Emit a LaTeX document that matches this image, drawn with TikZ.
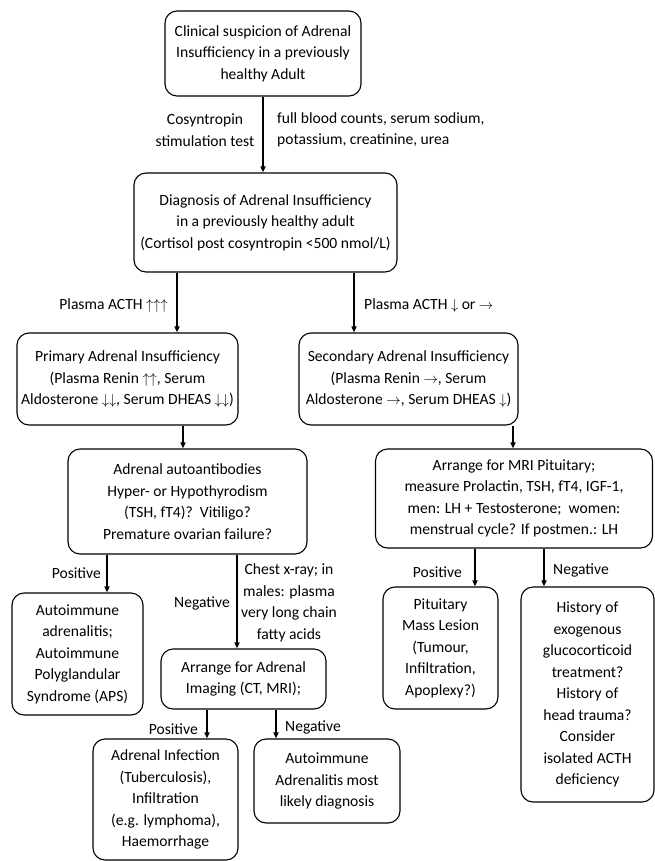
\documentclass[tikz,border=0pt]{standalone}
\usepackage{fontspec}
\setmainfont{Carlito}
\usetikzlibrary{arrows.meta,calc}
\newcommand\mainfnt{\fontsize{15.6}{21.5}\selectfont}
\begin{document}
\begin{tikzpicture}[x=1pt,y=-1pt,
  box/.style={draw, line width=1.1pt, rounded corners=12pt, align=center, inner sep=0pt, font=\mainfnt},
  lbl/.style={align=center, inner sep=0pt, font=\mainfnt},
  arr/.style={line width=1.6pt, -{Triangle[length=6pt,width=5pt]}}]
\useasboundingbox (0,0) rectangle (655,861);

\node[box, minimum width=196pt, minimum height=85pt] (b1) at (263,53.5)
  {Clinical suspicion of Adrenal\\Insufficiency in a previously\\healthy Adult};
\node[box, minimum width=263pt, minimum height=99pt] (b2) at (265.5,222.5)
  {Diagnosis of Adrenal Insufficiency\\in a previously healthy adult\\(Cortisol post cosyntropin <500 nmol/L)};
\node[box, minimum width=221pt, minimum height=92pt] (b3l) at (127.5,379)
  {Primary Adrenal Insufficiency\\(Plasma Renin $\uparrow\uparrow$, Serum\\Aldosterone $\downarrow\downarrow$, Serum DHEAS $\downarrow\downarrow$)};
\node[box, minimum width=219pt, minimum height=92pt] (b3r) at (408.5,379)
  {Secondary Adrenal Insufficiency\\(Plasma Renin $\rightarrow$, Serum\\Aldosterone $\rightarrow$, Serum DHEAS $\downarrow$)};
\node[box, minimum width=239pt, minimum height=105pt] (b4l) at (187.5,501.5)
  {Adrenal autoantibodies\\Hyper- or Hypothyrodism\\(TSH, fT4)?\ \ Vitiligo?\\Premature ovarian failure?};
\node[box, minimum width=277pt, minimum height=99pt] (b4r) at (514,498.5)
  {Arrange for MRI Pituitary;\\measure Prolactin, TSH, fT4, IGF-1,\\men: LH + Testosterone;\ \ women:\\menstrual cycle? If postmen.: LH};
\node[box, minimum width=131pt, minimum height=122pt] (b5) at (77.5,654)
  {Autoimmune\\adrenalitis;\\Autoimmune\\Polyglandular\\Syndrome (APS)};
\node[box, minimum width=165pt, minimum height=60pt] (b6) at (243.5,679)
  {Arrange for Adrenal\\Imaging (CT, MRI);};
\node[box, minimum width=145pt, minimum height=121pt] (b7) at (165.5,799.5)
  {Adrenal Infection\\(Tuberculosis),\\Infiltration\\(e.g. lymphoma),\\Haemorrhage};
\node[box, minimum width=146pt, minimum height=84pt] (b8) at (327,781)
  {Autoimmune\\Adrenalitis most\\likely diagnosis};
\node[box, minimum width=115pt, minimum height=122pt] (b9) at (440.5,648)
  {Pituitary\\Mass Lesion\\(Tumour,\\Infiltration,\\Apoplexy?)};
\node[box, minimum width=133pt, minimum height=215pt] (b10) at (587.5,694.5)
  {History of\\exogenous\\glucocorticoid\\treatment?\\History of\\head trauma?\\Consider\\isolated ACTH\\deficiency};

% arrow x positions
\coordinate (xa) at (263,0);
\coordinate (xb) at (177,0);
\coordinate (xc) at (354,0);
\coordinate (xd) at (183,0);
\coordinate (xe) at (513,0);
\coordinate (xf) at (107,0);
\coordinate (xg) at (237,0);
\coordinate (xh) at (207,0);
\coordinate (xi) at (276,0);
\coordinate (xj) at (475,0);
\coordinate (xk) at (544,0);

\draw[arr] (b1.south -| xa) -- (b2.north -| xa);
\draw[arr] (b2.south -| xb) -- (b3l.north -| xb);
\draw[arr] (b2.south -| xc) -- (b3r.north -| xc);
\draw[arr] (b3l.south -| xd) -- (b4l.north -| xd);
\draw[arr] (b3r.south -| xe) -- (b4r.north -| xe);
\draw[arr] (b4l.south -| xf) -- (b5.north -| xf);
\draw[arr] (b4l.south -| xg) -- (b6.north -| xg);
\draw[arr] (b6.south -| xh) -- (b7.north -| xh);
\draw[arr] (b6.south -| xi) -- (b8.north -| xi);
\draw[arr] (b4r.south -| xj) -- (b9.north -| xj);
\draw[arr] (b4r.south -| xk) -- (b10.north -| xk);

% labels
\node[lbl] (l1) at (205,130) {Cosyntropin\\stimulation test};
\node[lbl, anchor=west, align=left] (l2) at (277,130) {full blood counts, serum sodium,\\potassium, creatinine, urea};
\node[lbl, anchor=east] (l3) at (168,305) {Plasma ACTH $\uparrow\uparrow\uparrow$};
\node[lbl, anchor=west] (l4) at (364,305) {Plasma ACTH $\downarrow$ or $\rightarrow$};
\node[lbl, anchor=east] (l5) at (101,573) {Positive};
\node[lbl, anchor=east] (l6) at (230,603) {Negative};
\node[lbl] (l7) at (289,603) {Chest x-ray; in\\males: plasma\\very long chain\\fatty acids};
\node[lbl, anchor=east] (l8) at (198,729) {Positive};
\node[lbl, anchor=west] (l9) at (285,727) {Negative};
\node[lbl, anchor=east] (l10) at (462,572) {Positive};
\node[lbl, anchor=west] (l11) at (553,570) {Negative};
\end{tikzpicture}
\end{document}
